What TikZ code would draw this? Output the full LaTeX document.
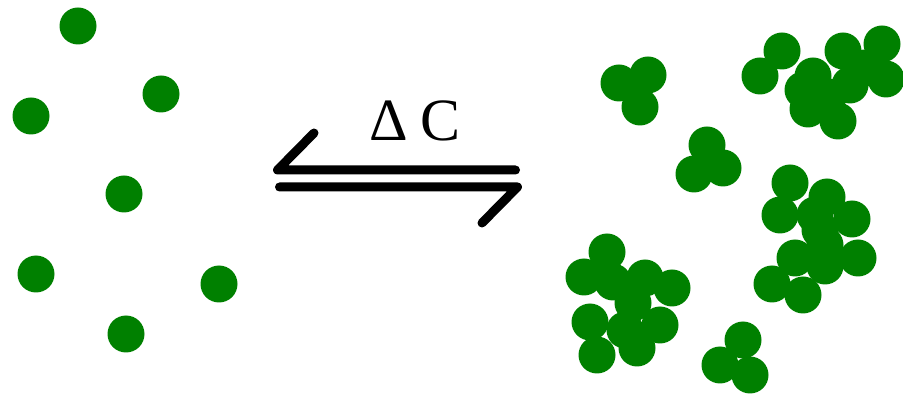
\documentclass[tikz,border=0pt]{standalone}
\usepackage{fontspec}
\newfontfamily\timesfont{Liberation Serif}

\begin{document}
\begin{tikzpicture}[
        x=1pt, y=-1pt,
        particle/.style={fill=green!50!black},
        harpoon/.style={draw=black, line width=9pt, line cap=round, line join=round},
        label text/.style={font=\timesfont\fontsize{60}{60}\selectfont, anchor=base, inner sep=0pt}
      ]
      \useasboundingbox (0,0) rectangle (903,395);

      % free particles
      \foreach \px/\py in {78/26, 161/94, 31/116, 124/194, 36/274, 219/284, 126/334}
          \fill[particle] (\px,\py) circle[radius=18.5pt];

      % aggregates
      \foreach \px/\py in {619/83, 648/75, 640/107,
                           782/51, 760/76, 803/90, 813/76, 843/51, 850/85, 882/44, 886/79, 808/109, 838/121, 828/97, 865/68,
                           707/145, 694/174, 723/168,
                           790/183, 780/215, 827/197, 815/215, 820/230, 852/219, 858/258, 795/258, 825/266, 825/245, 772/284, 803/295,
                           607/252, 584/277, 613/282, 645/278, 672/288, 633/303, 625/330, 660/325, 590/322, 597/355, 637/348,
                           743/340, 720/365, 750/375}
          \fill[particle] (\px,\py) circle[radius=18.5pt];

      % equilibrium harpoons
      \coordinate (back end) at (515.5,170);
      \coordinate (back tip) at (277.5,170);
      \coordinate (back barb) at (314,133);
      \coordinate (fwd end) at (279.5,187);
      \coordinate (fwd tip) at (517.5,187);
      \coordinate (fwd barb) at (482,223);
      \draw[harpoon] (back end) -- (back tip) -- (back barb);
      \draw[harpoon] (fwd end) -- (fwd tip) -- (fwd barb);

      \node[label text] (dc) at (415,141) {Δ\hspace{0.2em}C};

\end{tikzpicture}
\end{document}
